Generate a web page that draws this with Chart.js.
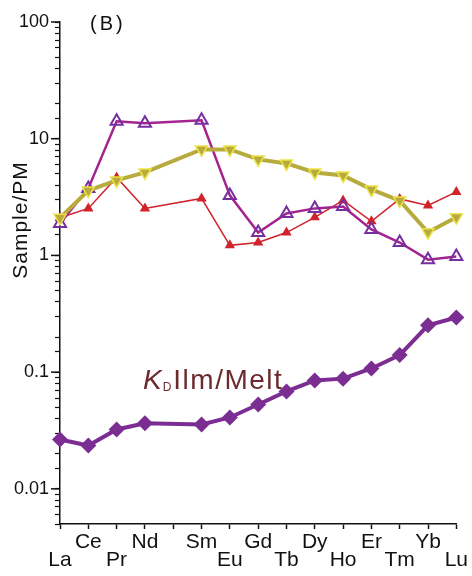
<!DOCTYPE html>
<html>
<head>
<meta charset="utf-8">
<script src="https://cdn.jsdelivr.net/npm/chart.js@4"></script>
<style>
  html, body { margin: 0; padding: 0; background: #fff; }
</style>
</head>
<body>
<canvas id="chart" width="472" height="576"></canvas>
<script>
// REE order (Pm kept as an empty slot so the spacing matches)
const elements = ['La', 'Ce', 'Pr', 'Nd', 'Pm', 'Sm', 'Eu', 'Gd', 'Tb', 'Dy', 'Ho', 'Er', 'Tm', 'Yb', 'Lu'];
const axisLabels = ['La', 'Ce', 'Pr', 'Nd', '', 'Sm', 'Eu', 'Gd', 'Tb', 'Dy', 'Ho', 'Er', 'Tm', 'Yb', 'Lu'];
const yTickLabels = [100, 10, 1, 0.1, 0.01];

// sample / primitive mantle
const openTriangle = [1.88, 3.75, 14.1, 13.6, null, 14.4, 3.27, 1.57, 2.29, 2.53, 2.63, 1.67, 1.29, 0.92, 0.98];
const redTriangle = [2.1, 2.53, 4.66, 2.53, null, 3.08, 1.22, 1.29, 1.57, 2.12, 2.96, 1.96, 3.05, 2.68, 3.5];
const yellowTriangle = [2.1, 3.6, 4.39, 5.14, null, 8.1, 8.1, 6.65, 6.14, 5.14, 4.85, 3.68, 2.95, 1.58, 2.12];
// partition coefficients ilmenite / melt
const kdIlmMelt = [0.0265, 0.0235, 0.0323, 0.0365, null, 0.0356, 0.0409, 0.0528, 0.0684, 0.085, 0.088, 0.1075, 0.14, 0.252, 0.294];

const font = 'Arial, "Liberation Sans", sans-serif';

// free text on the plot + longer major ticks
const textPlugin = {
  id: 'texts',
  afterDraw(chart) {
    const ctx = chart.ctx;
    const ys = chart.scales.y;
    ctx.save();
    ctx.strokeStyle = '#111';
    ctx.lineWidth = 1.5;
    yTickLabels.forEach(v => {
      const py = ys.getPixelForValue(v);
      ctx.beginPath();
      ctx.moveTo(ys.right - 9, py);
      ctx.lineTo(ys.right, py);
      ctx.stroke();
    });

    ctx.fillStyle = '#111';
    ctx.textBaseline = 'alphabetic';
    ctx.textAlign = 'left';
    ctx.font = '20px ' + font;
    ctx.letterSpacing = '3px';
    ctx.fillText('(B)', 90, 30);

    // y title
    ctx.letterSpacing = '1px';
    ctx.save();
    ctx.translate(27, 220);
    ctx.rotate(-Math.PI / 2);
    ctx.textAlign = 'center';
    ctx.font = '21px ' + font;
    ctx.fillText('Sample/PM', 0, 0);
    ctx.restore();

    // K_D Ilm/Melt
    ctx.fillStyle = '#6b2a2c';
    ctx.letterSpacing = '1px';
    let x = 143;
    const y = 389;
    ctx.font = 'italic 28px ' + font;
    ctx.fillText('K', x, y);
    x += ctx.measureText('K').width;
    ctx.font = '12px ' + font;
    ctx.fillText('D', x, y + 2);
    x += ctx.measureText('D').width + 1;
    ctx.font = '28px ' + font;
    ctx.letterSpacing = '1.5px';
    ctx.fillText('Ilm/Melt', x, y);
    ctx.restore();
  }
};

new Chart(document.getElementById('chart'), {
  type: 'line',
  data: {
    labels: elements,
    datasets: [
      {
        label: 'KD Ilm/Melt',
        data: kdIlmMelt,
        borderColor: '#7b2d92',
        backgroundColor: '#7b2d92',
        borderWidth: 4,
        pointStyle: 'rectRot',
        pointRadius: 8,
        pointBorderWidth: 0,
        spanGaps: true,
      },
      {
        label: 'yellow',
        data: yellowTriangle,
        borderColor: '#b8ab3e',
        backgroundColor: '#b8ab3e',
        borderWidth: 4,
        pointStyle: 'triangle',
        pointRotation: 180,
        pointRadius: 7,
        pointBorderColor: '#ece44a',
        pointBorderWidth: 1.5,
        spanGaps: true,
      },
      {
        label: 'open',
        data: openTriangle,
        borderColor: '#a3248f',
        backgroundColor: 'rgba(255,255,255,0)',
        borderWidth: 2.5,
        pointStyle: 'triangle',
        pointRadius: 7,
        pointBorderColor: '#772fa0',
        pointBorderWidth: 2,
        spanGaps: true,
      },
      {
        label: 'red',
        data: redTriangle,
        borderColor: '#d1232b',
        backgroundColor: '#d1232b',
        borderWidth: 1.5,
        pointStyle: 'triangle',
        pointRadius: 6,
        pointBorderWidth: 0,
        spanGaps: true,
      },
    ],
  },
  options: {
    responsive: false,
    animation: false,
    layout: { autoPadding: false, padding: { top: 22, right: 9, left: 0, bottom: 0 } },
    plugins: { legend: { display: false }, tooltip: { enabled: false } },
    scales: {
      x: {
        type: 'category',
        offset: false,
        afterFit(scale) { scale.height = 52; },
        grid: { drawOnChartArea: false, drawTicks: true, tickLength: 5, tickColor: '#111', tickWidth: 1.5 },
        border: { color: '#111', width: 1.5 },
        ticks: {
          autoSkip: false,
          maxRotation: 0,
          padding: 4,
          color: '#111',
          font: { family: font, size: 21, lineHeight: 0.86 },
          callback(value, index) {
            const t = axisLabels[index];
            return index % 2 === 1 ? [t, ''] : ['', t];
          },
        },
      },
      y: {
        type: 'logarithmic',
        min: 0.005,
        max: 100,
        afterFit(scale) { scale.width = 60; },
        grid: { drawOnChartArea: false, drawTicks: true, tickLength: 5, tickColor: '#111', tickWidth: 1.2 },
        border: { color: '#111', width: 1.5 },
        ticks: {
          autoSkip: false,
          padding: 6,
          color: '#111',
          font: { family: font, size: 18 },
          callback(value) {
            const hit = yTickLabels.find(v => Math.abs(v - value) / v < 1e-6);
            return hit !== undefined ? String(hit) : '';
          },
        },
      },
    },
  },
  plugins: [textPlugin],
});
</script>
</body>
</html>
